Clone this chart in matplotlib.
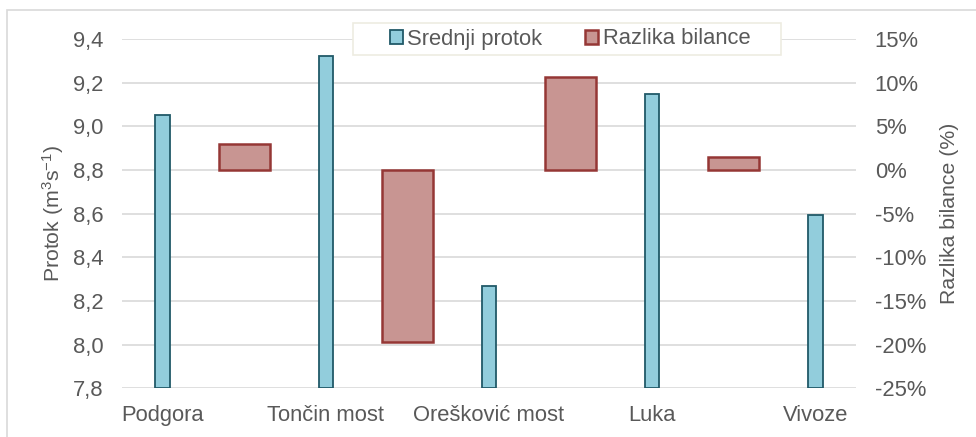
import matplotlib
matplotlib.use('Agg')
import matplotlib.pyplot as plt
from matplotlib.ticker import FuncFormatter, MultipleLocator
from matplotlib.patches import Rectangle

plt.rcParams['font.family'] = ['Liberation Sans', 'DejaVu Sans']
plt.rcParams['mathtext.fontset'] = 'custom'
plt.rcParams['mathtext.rm'] = 'Liberation Sans'
plt.rcParams['mathtext.it'] = 'Liberation Sans:italic'

stations = ['Podgora', 'Tončin most', 'Orešković most', 'Luka', 'Vivoze']
mean_flow = [9.053, 9.323, 8.268, 9.149, 8.594]          # m3/s
balance_diff = [2.97, -19.66, 10.68, 1.51]                # % between neighbouring stations

text_col = '#595959'
grid_col = '#d9d9d9'
fs = 15.8
W, H = 976, 437

fig = plt.figure(figsize=(W / 100, H / 100), dpi=100)
ax = fig.add_axes([0.125, 0.1114, 0.752, 0.799])
ax2 = ax.twinx()

# stations sit on even slots, balance bars in between on odd slots
flow_x = [2 * i for i in range(len(stations))]
diff_x = [2 * i + 1 for i in range(len(balance_diff))]

ax.set_ylim(7.8, 9.4)
ax.set_xlim(-0.5, 8.5)
ax2.set_ylim(-25, 15)

ax.yaxis.set_major_locator(MultipleLocator(0.2))
ax2.yaxis.set_major_locator(MultipleLocator(5))
ax.grid(axis='y', color=grid_col, lw=1.2, zorder=0)
ax.set_axisbelow(True)

bottom = 7.8
ax.bar(flow_x, [v - bottom for v in mean_flow], bottom=bottom, width=0.18,
       color='#92cddc', edgecolor='#215968', lw=1.3, zorder=3,
       label='Srednji protok')
ax2.bar(diff_x, balance_diff, width=0.625, color='#c89592',
        edgecolor='#953735', lw=1.8, zorder=3, label='Razlika bilance')

ax.set_xticks(flow_x)
ax.set_xticklabels(stations)
ax.yaxis.set_major_formatter(FuncFormatter(lambda v, p: f'{v:.1f}'.replace('.', ',')))
ax2.yaxis.set_major_formatter(FuncFormatter(lambda v, p: f'{v:.0f}%'))

for a in (ax, ax2):
    for s in a.spines.values():
        s.set_visible(False)
    a.tick_params(length=0, labelsize=fs, colors=text_col)
ax.tick_params(axis='y', pad=13.5)
ax.tick_params(axis='x', pad=12)
ax2.tick_params(axis='y', pad=13.5)

ax.set_ylabel('Protok (m$^\\mathregular{3}$s$^\\mathregular{-1}$)', fontsize=fs - 0.5,
              color=text_col, labelpad=5)
ax2.set_ylabel('Razlika bilance (%)', fontsize=fs - 0.5, color=text_col, labelpad=10)

# legend box drawn separately, wider than its content
fig.patches.append(Rectangle((353 / W, 1 - 55 / H), (781 - 353) / W, 32 / H,
                             transform=fig.transFigure, facecolor='white',
                             edgecolor='#eeece1', lw=1.2, zorder=5))
h1, l1 = ax.get_legend_handles_labels()
h2, l2 = ax2.get_legend_handles_labels()
leg = fig.legend(h1 + h2, l1 + l2, loc='center', bbox_to_anchor=(570 / W, 1 - 39 / H),
                 ncol=2, fontsize=fs, frameon=False,
                 handlelength=0.6, handleheight=0.6, handletextpad=0.2,
                 columnspacing=1.95, borderpad=0.3, borderaxespad=0)
leg.set_zorder(6)
for t in leg.get_texts():
    t.set_color(text_col)

# outer chart border
fig.patches.append(Rectangle((7 / W, -0.05), 1.1, 1 - 10 / H + 0.05,
                             transform=fig.transFigure, fill=False,
                             edgecolor='#d9d9d9', lw=1.2))

fig.savefig('out.png', dpi=100)
